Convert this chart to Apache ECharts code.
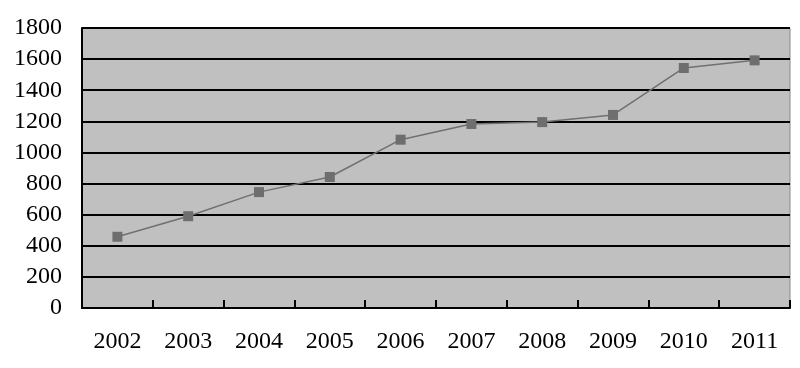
<!DOCTYPE html>
<html><head><meta charset="utf-8">
<script src="https://cdn.jsdelivr.net/npm/echarts@6/dist/echarts.min.js"></script>
<style>html,body{margin:0;padding:0;background:#fff}#c{width:800px;height:368px}</style>
</head><body><div id="c"></div>
<script>
var years = ['2002','2003','2004','2005','2006','2007','2008','2009','2010','2011'];
var values = [458, 590, 745, 842, 1082, 1183, 1195, 1241, 1543, 1592];
var yMin = 0, yMax = 1800, yStep = 200;

var chart = echarts.init(document.getElementById('c'));
chart.setOption({
  animation: false,
  grid: { left: 82, right: 10, top: 28, bottom: 60, show: true, backgroundColor: '#c0c0c0', borderColor: '#8a8a8a', borderWidth: 1 },
  xAxis: {
    type: 'category', data: years, boundaryGap: true,
    axisLine: { lineStyle: { color: '#000', width: 2 } },
    axisTick: { show: true, inside: true, length: 8, lineStyle: { color: '#000', width: 2 } },
    axisLabel: { color: '#000', fontFamily: 'Liberation Serif', fontSize: 24, margin: 22 }
  },
  yAxis: {
    type: 'value', min: yMin, max: yMax, interval: yStep,
    axisLine: { show: true, lineStyle: { color: '#000', width: 2 } },
    axisTick: { show: false },
    splitLine: { lineStyle: { color: '#000', width: 2 } },
    axisLabel: { color: '#000', fontFamily: 'Liberation Serif', fontSize: 24, margin: 20, formatter: function (v) { return String(v); } }
  },
  series: [{
    type: 'line', data: values,
    symbol: 'rect', symbolSize: 10,
    lineStyle: { color: '#707070', width: 1.5 },
    itemStyle: { color: '#6e6e6e' }
  }]
});
</script></body></html>
